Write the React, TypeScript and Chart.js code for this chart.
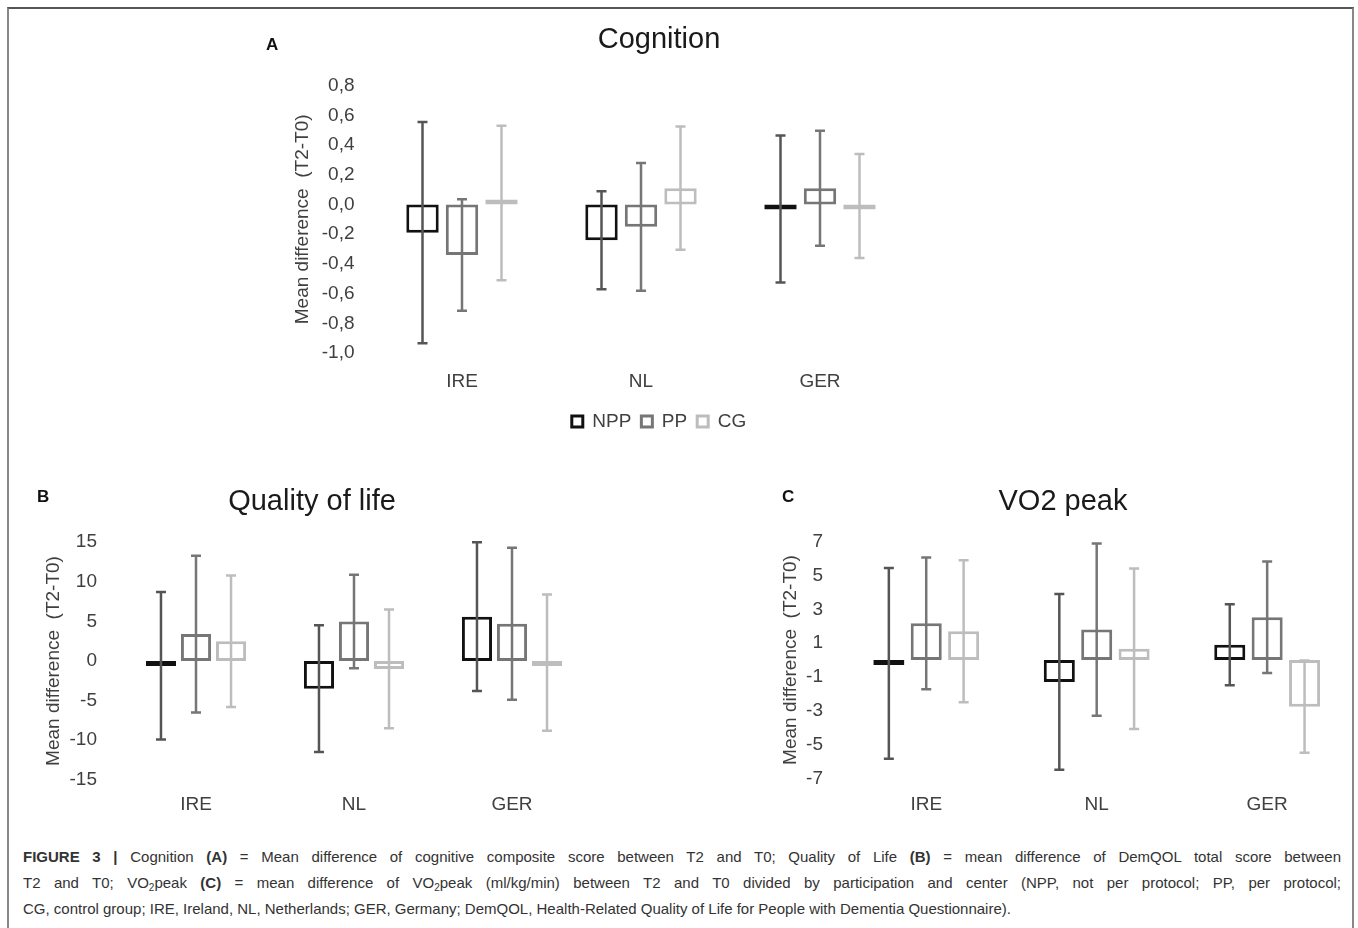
import React, { useEffect, useRef } from 'react';
import { Chart, registerables } from 'chart.js';

Chart.register(...registerables);
Chart.defaults.font.family = "'Liberation Sans', Arial, sans-serif";
Chart.defaults.color = '#404040';

// ---------- data ----------
const groups = ['IRE', 'NL', 'GER'];
const seriesNames = ['NPP', 'PP', 'CG'];

// A: Cognition (mean difference T2-T0, error = half-length of whisker)
const cogNPP = [-0.19, -0.24, -0.03];
const cogNPPErr = [0.745, 0.33, 0.495];
const cogPP = [-0.34, -0.15, 0.11];
const cogPPErr = [0.376, 0.43, 0.387];
const cogCG = [0.01, 0.11, -0.01];
const cogCGErr = [0.52, 0.415, 0.35];
const cogAxis = [-1, 0.8, 0.2]; // min, max, step

// B: Quality of life
const qolNPP = [-0.6, -3.5, 5.6];
const qolNPPErr = [9.3, 8.0, 9.4];
const qolPP = [3.4, 5.0, 4.7];
const qolPPErr = [9.9, 5.9, 9.6];
const qolCG = [2.5, -1.0, -0.2];
const qolCGErr = [8.3, 7.5, 8.6];
const qolAxis = [-15, 15, 5];

// C: VO2 peak
const vo2NPP = [-0.2, -1.3, 0.9];
const vo2NPPErr = [5.65, 5.2, 2.4];
const vo2PP = [2.17, 1.8, 2.53];
const vo2PPErr = [3.9, 5.1, 3.3];
const vo2CG = [1.7, 0.67, -2.76];
const vo2CGErr = [4.2, 4.75, 2.73];
const vo2Axis = [-7, 7, 2];

const yTitle = 'Mean difference  (T2-T0)';

// ---------- styles ----------
const boxColors = ['#111111', '#767676', '#bdbdbd'];
const whiskerColors = ['#555555', '#767676', '#bdbdbd'];

const errorBarPlugin = {
  id: 'errorBars',
  afterDatasetsDraw(chart: any) {
    const ctx = chart.ctx;
    const ys = chart.scales.y;
    chart.data.datasets.forEach((ds: any, i: number) => {
      const meta = chart.getDatasetMeta(i);
      if (!chart.isDatasetVisible(i)) return;
      meta.data.forEach((el: any, j: number) => {
        const m = ds.data[j];
        const e = ds.errorBars[j];
        const top = ys.getPixelForValue(m + e);
        const bot = ys.getPixelForValue(m - e);
        ctx.save();
        ctx.strokeStyle = ds.whiskerColor;
        ctx.lineWidth = 2.5;
        ctx.beginPath();
        ctx.moveTo(el.x, top);
        ctx.lineTo(el.x, bot);
        ctx.moveTo(el.x - 5, top);
        ctx.lineTo(el.x + 5, top);
        ctx.moveTo(el.x - 5, bot);
        ctx.lineTo(el.x + 5, bot);
        ctx.stroke();
        ctx.restore();
      });
    });
  },
};

type Spec = {
  title: string;
  means: number[][];
  errs: number[][];
  axis: number[];
  decimals: number;
  titlePad: { top: number; bottom: number };
  yWidth: number;
  yTickPad: number;
  yTitlePad: number;
  xHeight: number;
  xTickPad: number;
  rightPad: number;
  catPct: number;
  barPct: number;
  legend: boolean;
};

function buildConfig(s: Spec): any {
  return {
    type: 'bar',
    data: {
      labels: groups,
      datasets: seriesNames.map((name, k) => ({
        label: name,
        data: s.means[k],
        errorBars: s.errs[k],
        whiskerColor: whiskerColors[k],
        backgroundColor: '#ffffff',
        borderColor: boxColors[k],
        borderWidth: 3,
        borderSkipped: false,
        minBarLength: 5,
        categoryPercentage: s.catPct,
        barPercentage: s.barPct,
      })),
    },
    options: {
      responsive: false,
      maintainAspectRatio: false,
      animation: false,
      layout: { padding: 0 },
      plugins: {
        tooltip: { enabled: false },
        title: {
          display: true,
          text: s.title,
          color: '#1a1a1a',
          font: { size: 29, weight: 'normal' },
          padding: s.titlePad,
        },
        legend: {
          display: s.legend,
          position: 'bottom',
          labels: {
            boxWidth: 11,
            boxHeight: 11,
            padding: 10,
            color: '#404040',
            font: { size: 19 },
          },
        },
      },
      scales: {
        x: {
          grid: { display: false, drawTicks: false },
          border: { display: false },
          ticks: { font: { size: 19 }, color: '#404040', padding: s.xTickPad },
          afterFit: (sc: any) => {
            sc.height = s.xHeight;
          },
        },
        y: {
          min: s.axis[0],
          max: s.axis[1],
          grid: { display: false, drawTicks: false },
          border: { display: false },
          ticks: {
            stepSize: s.axis[2],
            font: { size: 19 },
            color: '#404040',
            padding: s.yTickPad,
            callback: (v: number) =>
              (Math.round(v * 10) / 10).toFixed(s.decimals).replace('.', ','),
          },
          title: {
            display: true,
            text: yTitle,
            color: '#404040',
            font: { size: 19 },
            padding: { top: s.yTitlePad, bottom: 0 },
          },
          afterFit: (sc: any) => {
            sc.width = s.yWidth;
          },
        },
        pad: {
          type: 'linear',
          position: 'right',
          grid: { display: false, drawTicks: false },
          border: { display: false },
          ticks: { display: false },
          afterFit: (sc: any) => {
            sc.width = s.rightPad;
          },
        },
      },
    },
    plugins: [errorBarPlugin],
  };
}

function ChartBox(props: { spec: Spec; left: number; top: number; width: number; height: number }) {
  const ref = useRef<HTMLCanvasElement>(null);
  useEffect(() => {
    if (!ref.current) return;
    const chart = new Chart(ref.current, buildConfig(props.spec));
    return () => chart.destroy();
  }, []);
  return (
    <canvas
      ref={ref}
      width={props.width}
      height={props.height}
      style={{
        position: 'absolute',
        left: props.left,
        top: props.top,
        width: props.width,
        height: props.height,
      }}
    />
  );
}

const specA: Spec = {
  title: 'Cognition',
  means: [cogNPP, cogPP, cogCG],
  errs: [cogNPPErr, cogPPErr, cogCGErr],
  axis: cogAxis,
  decimals: 1,
  titlePad: { top: 12.6, bottom: 28.3 },
  yWidth: 122.5,
  yTickPad: 18,
  yTitlePad: 41.6,
  xHeight: 49,
  xTickPad: 17.5,
  rightPad: 158.5,
  catPct: 0.662,
  barPct: 0.82,
  legend: true,
};

const specB: Spec = {
  title: 'Quality of life',
  means: [qolNPP, qolPP, qolCG],
  errs: [qolNPPErr, qolPPErr, qolCGErr],
  axis: qolAxis,
  decimals: 0,
  titlePad: { top: 14.6, bottom: 22.8 },
  yWidth: 97,
  yTickPad: 20,
  yTitlePad: 22.6,
  xHeight: 40.2,
  xTickPad: 13.8,
  rightPad: 13,
  catPct: 0.665,
  barPct: 0.86,
  legend: false,
};

const specC: Spec = {
  title: 'VO2 peak',
  means: [vo2NPP, vo2PP, vo2CG],
  errs: [vo2NPPErr, vo2PPErr, vo2CGErr],
  axis: vo2Axis,
  decimals: 0,
  titlePad: { top: 14.6, bottom: 22.3 },
  yWidth: 71,
  yTickPad: 18,
  yTitlePad: 9.6,
  xHeight: 41.7,
  xTickPad: 15.3,
  rightPad: 3.6,
  catPct: 0.658,
  barPct: 0.83,
  legend: false,
};

const letterStyle: React.CSSProperties = {
  position: 'absolute',
  fontFamily: "'Liberation Sans', Arial, sans-serif",
  fontWeight: 'bold',
  fontSize: 17,
  lineHeight: '20px',
  color: '#111',
};

const capLine: React.CSSProperties = {
  position: 'absolute',
  left: 23,
  width: 1318,
  height: 26,
  lineHeight: '26px',
  whiteSpace: 'nowrap',
};

const justified: React.CSSProperties = {
  ...capLine,
  whiteSpace: 'normal',
  textAlign: 'justify',
  textAlignLast: 'justify' as any,
};

const subStyle: React.CSSProperties = { fontSize: 10, lineHeight: 0, verticalAlign: -3 };

export default function App() {
  return (
    <div
      style={{
        position: 'fixed',
        left: 0,
        top: 0,
        width: 1358,
        height: 928,
        overflow: 'hidden',
        background: '#ffffff',
      }}
    >
      <div
        style={{
          position: 'absolute',
          left: 7,
          top: 7,
          width: 1347,
          height: 1000,
          boxSizing: 'border-box',
          borderTop: '2px solid #555',
          borderLeft: '2px solid #888',
          borderRight: '2px solid #888',
        }}
      />
      <ChartBox spec={specA} left={250} top={10} width={818} height={431} />
      <ChartBox spec={specB} left={20} top={470} width={584} height={350} />
      <ChartBox spec={specC} left={770} top={470} width={586} height={350} />
      <div style={{ ...letterStyle, left: 266, top: 35 }}>A</div>
      <div style={{ ...letterStyle, left: 37, top: 487 }}>B</div>
      <div style={{ ...letterStyle, left: 782, top: 487 }}>C</div>
      <div
        style={{
          position: 'absolute',
          left: 0,
          top: 0,
          fontFamily: "'Liberation Sans', Arial, sans-serif",
          fontSize: 15,
          color: '#333',
        }}
      >
        <div style={{ ...justified, top: 844 }}>
          <b>FIGURE 3 |</b> Cognition <b>(A)</b> = Mean difference of cognitive composite score between T2 and
          T0; Quality of Life <b>(B)</b> = mean difference of DemQOL total score between
        </div>
        <div style={{ ...justified, top: 870 }}>
          T2 and T0; VO<sub style={subStyle}>2</sub>peak <b>(C)</b> = mean difference of VO
          <sub style={subStyle}>2</sub>peak (ml/kg/min) between T2 and T0 divided by participation and center (NPP,
          not per protocol; PP, per protocol;
        </div>
        <div style={{ ...capLine, top: 896 }}>
          CG, control group; IRE, Ireland, NL, Netherlands; GER, Germany; DemQOL, Health-Related Quality of Life for
          People with Dementia Questionnaire).
        </div>
      </div>
    </div>
  );
}
